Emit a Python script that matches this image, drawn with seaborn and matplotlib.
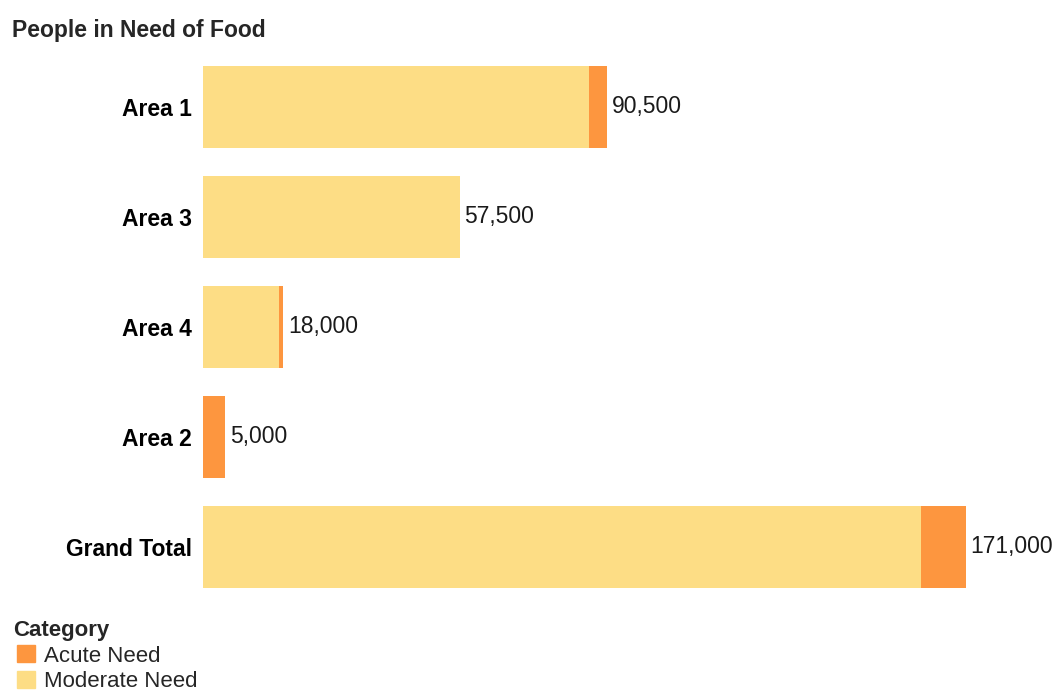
import matplotlib
matplotlib.use("Agg")
import matplotlib.pyplot as plt
from matplotlib.patches import Patch
import pandas as pd
import seaborn as sb

areas = ["Area 1", "Area 3", "Area 4", "Area 2", "Grand Total"]
moderate = [86500, 57500, 17000, 0, 161000]
acute = [4000, 0, 1000, 5000, 10000]
totals = [m + a for m, a in zip(moderate, acute)]

col_acute = "#FD963F"
col_moderate = "#FDDD85"

df = pd.DataFrame({"area": areas, "moderate": moderate, "acute": acute, "total": totals})

sb.set_theme(style="white")
plt.rcParams["font.family"] = ["Liberation Sans", "DejaVu Sans"]

fig = plt.figure(figsize=(10.56, 6.95), dpi=100)
ax = fig.add_axes([203 / 1056, 1 - 602 / 695, (966 - 203) / 1056, 550 / 695])

# total bar in acute colour, moderate part drawn over it
sb.barplot(data=df, x="total", y="area", orient="h", color=col_acute, width=0.745,
           saturation=1, linewidth=0, ax=ax)
sb.barplot(data=df, x="moderate", y="area", orient="h", color=col_moderate, width=0.745,
           saturation=1, linewidth=0, ax=ax)

ax.set_xlim(0, max(totals))
ax.set_ylim(4.5, -0.5)
for i, t in enumerate(totals):
    ax.text(t + max(totals) * 0.006, i, f"{t:,}", va="center", ha="left", fontsize=16.5,
            color="#1a1a1a", clip_on=False)

ax.set_xlabel("")
ax.set_ylabel("")
ax.set_xticks([])
ax.tick_params(axis="y", length=0, pad=8)
for lab in ax.get_yticklabels():
    lab.set_fontweight("bold")
    lab.set_fontsize(16.5)
    lab.set_color("black")
sb.despine(ax=ax, left=True, bottom=True)

fig.text(12 / 1056, 1 - 31 / 695, "People in Need of Food", fontsize=16.5, fontweight="bold",
         va="center", ha="left")

handles = [Patch(color=col_acute, label="Acute Need"), Patch(color=col_moderate, label="Moderate Need")]
leg = fig.legend(handles=handles, title="Category", loc="lower left", bbox_to_anchor=(0.016, 0.004),
                 frameon=False, fontsize=16, handlelength=0.8, handleheight=0.8,
                 handletextpad=0.4, labelspacing=0.2, borderaxespad=0.0, borderpad=0.0,
                 title_fontproperties={"weight": "bold", "size": 16})
leg._legend_box.align = "left"
leg._legend_box.sep = 3
leg.get_title().set_position((-4, 0))

fig.savefig("out.png", dpi=100)
